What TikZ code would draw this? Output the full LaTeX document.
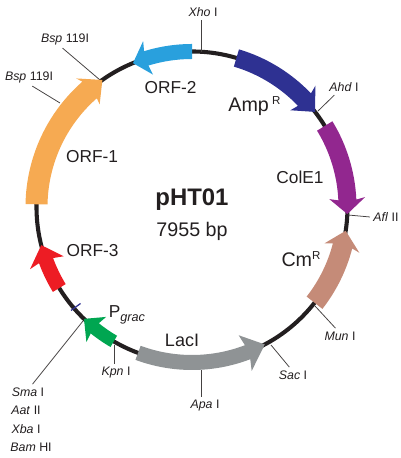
\documentclass[tikz,border=0pt]{standalone}
\usepackage{fontspec}
\setmainfont{Liberation Sans}
\usetikzlibrary{positioning}
\definecolor{inkdark}{RGB}{35, 31, 32}
\definecolor{orfone}{RGB}{246, 170, 82}
\definecolor{orftwo}{RGB}{41, 160, 221}
\definecolor{ampblue}{RGB}{46, 49, 146}
\definecolor{colepurple}{RGB}{146, 39, 143}
\definecolor{cmbrown}{RGB}{197, 139, 120}
\definecolor{lacgray}{RGB}{143, 147, 149}
\definecolor{gracgreen}{RGB}{0, 166, 81}
\definecolor{orfred}{RGB}{237, 28, 36}

% colour, tail angle, head base angle, tip angle, body half width, head half width
\newcommand{\genearrow}[6]{%
    \pgfmathsetmacro{\neckangle}{#3+0.12*(#4-#3)}
    \fill[#1] ([shift={(hub)}]#2:155.5+#5)
        arc[start angle=#2, end angle=\neckangle, radius=155.5+#5]
        -- ([shift={(hub)}]#3:155.5+#6) -- ([shift={(hub)}]#4:155.5)
        -- ([shift={(hub)}]#3:155.5-#6) -- ([shift={(hub)}]\neckangle:155.5-#5)
        arc[start angle=\neckangle, end angle=#2, radius=155.5-#5] -- cycle;
}

\begin{document}
\begin{tikzpicture}[
                x=0.025cm, y=0.025cm,
                sitelabel/.style={font=\fontsize{8.8}{10}\selectfont, text=inkdark, inner sep=0.5pt, outer sep=2pt},
                genelabel/.style={font=\fontsize{12.3}{14}\selectfont, text=inkdark, inner sep=0pt},
                siteline/.style={draw=inkdark!85, line width=0.55pt}
            ]
            \useasboundingbox (0, 0) rectangle (400, 458);
            \coordinate (hub) at (192, 251);

            % backbone
            \draw[inkdark, line width=2.9pt] (hub) circle (155.5);

            % cut sites on the ring
            \coordinate (xhocut) at (201, 406);
            \coordinate (ahdcut) at (318, 347);
            \coordinate (aflcut) at (348, 243);
            \coordinate (muncut) at (315, 152);
            \coordinate (saccut) at (271, 113);
            \coordinate (apacut) at (201, 88);
            \coordinate (kpncut) at (114, 113);
            \coordinate (smacut) at (83, 137);
            \coordinate (bspacut) at (100, 378);
            \coordinate (bspbcut) at (60, 355);

            \node[sitelabel] (xho) at (203, 446) {\textit{Xho} I};
            \node[sitelabel] (ahd) at (344, 371) {\textit{Ahd} I};
            \node[sitelabel] (afl) at (386, 241) {\textit{Afl} II};
            \node[sitelabel] (mun) at (340, 122) {\textit{Mun} I};
            \node[sitelabel] (sac) at (293, 83) {\textit{Sac} I};
            \node[sitelabel] (apa) at (205, 52) {\textit{Apa} I};
            \node[sitelabel] (kpn) at (116, 85) {\textit{Kpn} I};
            \node[sitelabel] (sma) at (28, 66) {\textit{Sma} I};
            \node[sitelabel] (aat) at (26, 48) {\textit{Aat} II};
            \node[sitelabel] (xba) at (26, 29) {\textit{Xba} I};
            \node[sitelabel] (bam) at (31, 11) {\textit{Bam} HI};
            \node[sitelabel] (bspa) at (65, 419) {\textit{Bsp} 119I};
            \node[sitelabel] (bspb) at (29, 381) {\textit{Bsp} 119I};

            \draw[siteline] (xhocut |- xho.south) -- (xhocut);
            \draw[siteline] (ahd.220) -- (ahdcut);
            \draw[siteline] (afl.west) -- (aflcut);
            \draw[siteline] (mun.120) -- (muncut);
            \draw[siteline] (sac.115) -- (saccut);
            \draw[siteline] (apacut |- apa.north) -- (apacut);
            \draw[siteline] (kpncut |- kpn.north) -- (kpncut);
            \draw[siteline] (sma.60) -- (smacut);
            \draw[siteline] (bspa.-105) -- (bspacut);
            \draw[siteline] (bspb.-70) -- (bspbcut);

            % genes
            \genearrow{orfone}{179}{132}{125.2}{11}{17.5}
            \genearrow{orftwo}{90}{106.4}{112.3}{7.5}{17.5}
            \genearrow{ampblue}{73.4}{44.5}{37.7}{9}{17.5}
            \genearrow{colepurple}{31.4}{3.3}{-2.6}{9}{18}
            \genearrow{cmbrown}{-38}{-15.3}{-8.8}{10}{18}
            \genearrow{lacgray}{-110.3}{-70}{-62.1}{7.5}{19}
            \genearrow{gracgreen}{-120.2}{-128}{-134}{6.5}{16}
            \genearrow{orfred}{-148.6}{-159}{-165.8}{7.5}{18}

            % small mark on the ring
            \coordinate (marka) at (71, 147.5);
            \coordinate (markb) at (80.5, 154.5);
            \draw[ampblue, line width=0.9pt] (marka) -- (markb);

            \node[genelabel] (orf2) at (170.5, 370) {ORF-2};
            \node[genelabel] (orf1) at (92, 301) {ORF-1};
            \node[genelabel] (orf3) at (92.5, 207) {ORF-3};
            \node[genelabel] (grac) at (127, 143) {P\raisebox{-3pt}{\fontsize{9}{10}\selectfont\itshape grac}};
            \node[genelabel, font=\fontsize{12.8}{14}\selectfont] (laci) at (182, 118) {LacI};
            \node[genelabel, font=\fontsize{14}{16}\selectfont] (amp) at (254.5, 352) {Amp\,\raisebox{4.7pt}{\fontsize{8.2}{9}\selectfont R}};
            \node[genelabel] (cole) at (300, 281) {ColE1};
            \node[genelabel, font=\fontsize{14}{16}\selectfont] (cm) at (301, 199) {Cm\raisebox{5pt}{\fontsize{8.2}{9}\selectfont R}};

            \node[font=\fontsize{17}{20}\selectfont\bfseries, text=inkdark] (name) at (192, 258) {pHT01};
            \node[font=\fontsize{14}{16}\selectfont, text=inkdark] (size) at (192, 227) {7955 bp};

            \end{tikzpicture}
\end{document}
